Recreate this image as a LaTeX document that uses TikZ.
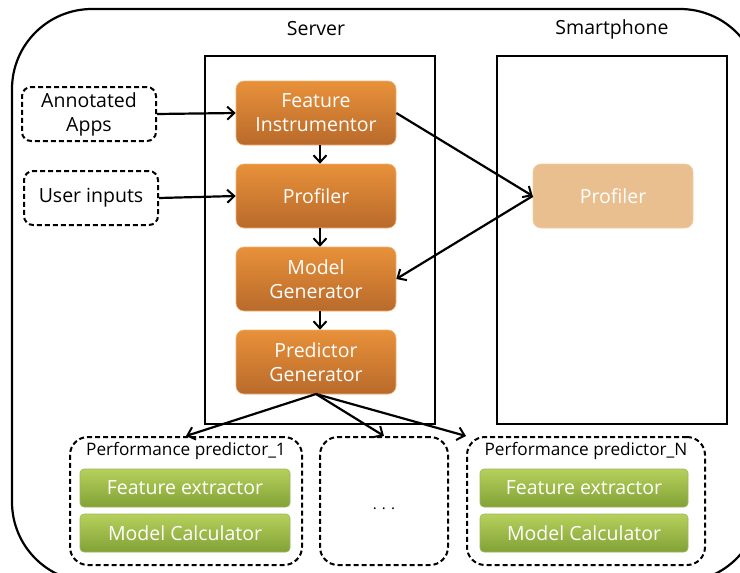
\documentclass[tikz,border=0pt]{standalone}
\usepackage{fontspec}
\setmainfont{Open Sans}
\usetikzlibrary{arrows.meta,positioning}
\definecolor{orT}{HTML}{E8913A}
\definecolor{orB}{HTML}{B96A2B}
\definecolor{lightor}{HTML}{EABF8F}
\definecolor{grT}{HTML}{B6D05C}
\definecolor{grB}{HTML}{82A236}
\tikzset{
  orbox/.style={rounded corners=8pt, top color=orT, bottom color=orB, draw=orT!70!white, line width=0.6pt,
     minimum width=160pt, minimum height=64pt, text=white, align=center, font=\fontsize{19.5}{24}\selectfont, inner sep=0pt},
  phonebox/.style={rounded corners=8pt, fill=lightor, draw=lightor!80!white, line width=0.6pt,
     minimum width=160pt, minimum height=64pt, text=white, align=center, font=\fontsize{19.5}{24}\selectfont, inner sep=0pt},
  grbox/.style={rounded corners=4pt, top color=grT, bottom color=grB, draw=grB!80!white, line width=0.6pt,
     minimum height=38pt, text=white, align=center, font=\fontsize{19.5}{24}\selectfont, inner sep=0pt},
  inbox/.style={rounded corners=9pt, draw, dash pattern=on 5pt off 3pt, line width=2pt,
     minimum width=134pt, minimum height=54pt, align=center, font=\fontsize{19.5}{24}\selectfont, inner sep=0pt},
  predbox/.style={rounded corners=18pt, draw, dash pattern=on 5pt off 3pt, line width=2pt, inner sep=0pt},
  frame/.style={draw, line width=2pt},
  conn/.style={line width=2.2pt, -{Straight Barb[length=7pt,width=13pt,line width=2pt]}},
  title/.style={font=\fontsize{19.5}{24}\selectfont},
  ptitle/.style={font=\fontsize{17.2}{20}\selectfont, inner sep=0pt}
}
\begin{document}
\begin{tikzpicture}[x=1pt,y=-1pt]
\useasboundingbox (0,0) rectangle (740,573);
\begin{scope}
\clip (0,0) rectangle (740,573);
\draw[line width=2.2pt, rounded corners=80pt] (12,9) rectangle (760,582);
\end{scope}
% frames
\node[frame, minimum width=230pt, minimum height=368pt, inner sep=0pt] (server) at (320,240) {};
\node[frame, minimum width=230pt, minimum height=368pt, inner sep=0pt] (phone) at (612,240) {};
\node[title] (servert) at (316,29) {Server};
\node[title] (phonet) at (612,29) {Smartphone};
% inputs
\node[inbox] (apps) at (89,114) {Annotated\\Apps};
\node[inbox] (user) at (91,198) {User inputs};
% server boxes
\node[orbox] (fi) at (316,113) {Feature\\Instrumentor};
\node[orbox] (prof) at (316,196) {Profiler};
\node[orbox] (mg) at (316,279) {Model\\Generator};
\node[orbox] (pg) at (316,362) {Predictor\\Generator};
\node[phonebox] (pprof) at (613,196) {Profiler};
% predictor boxes
\node[predbox, minimum width=232pt, minimum height=128pt] (p1) at (186,501) {};
\node[predbox, minimum width=128pt, minimum height=128pt] (pdots) at (384,501) {};
\node[predbox, minimum width=238pt, minimum height=128pt] (pN) at (586,501) {};
\node[ptitle] (p1t) at (186,451) {Performance predictor\_1};
\node[ptitle] (pNt) at (586,451) {Performance predictor\_N};
\node[font=\fontsize{15}{16}\selectfont] (dots) at (384,509) {. . .};
\node[grbox, minimum width=210pt] (fe1) at (185,488) {Feature extractor};
\node[grbox, minimum width=210pt] (mc1) at (185,533) {Model Calculator};
\node[grbox, minimum width=208pt] (feN) at (584,488) {Feature extractor};
\node[grbox, minimum width=208pt] (mcN) at (584,533) {Model Calculator};
% connectors
\draw[conn] (apps.east) -- (fi.west);
\draw[conn] (user.east) -- (prof.west);
\draw[conn] (fi.south -| 320,0) -- (prof.north -| 320,0);
\draw[conn] (prof.south -| 320,0) -- (mg.north -| 320,0);
\draw[conn] (mg.south -| 320,0) -- (pg.north -| 320,0);
\draw[conn] (fi.east) -- (pprof.west);
\draw[conn] (pprof.west) -- (mg.east);
\coordinate (pgb) at (316,394);
\draw[conn] (pgb) -- (p1.north);
\draw[conn] (pgb) -- (pdots.north);
\draw[conn] (pgb) -- (pN.north west);
\end{tikzpicture}
\end{document}
